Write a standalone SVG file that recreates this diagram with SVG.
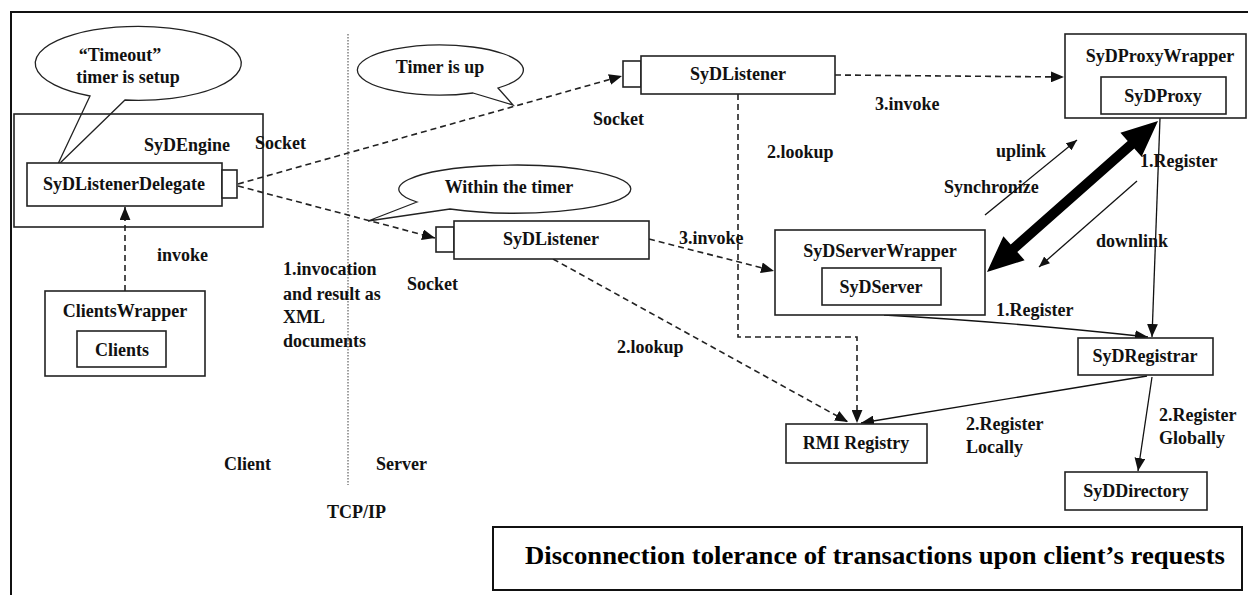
<svg xmlns="http://www.w3.org/2000/svg" width="1248" height="595" viewBox="0 0 1248 595" font-family="Liberation Serif, Times New Roman, serif">
  <style>
    .box { fill: #fff; stroke: #222; stroke-width: 1.6; }
    .frame { fill: none; stroke: #222; stroke-width: 1.6; }
    .lbl { font-weight: bold; font-size: 18px; fill: #111; }
    .mid { text-anchor: middle; }
    .dash { fill: none; stroke: #222; stroke-width: 1.6; stroke-dasharray: 6 4; }
    .solid { fill: none; stroke: #111; stroke-width: 1.3; }
    .bubble { fill: #fff; stroke: #222; stroke-width: 1.3; }
  </style>
  <defs>
    <marker id="ah" viewBox="0 0 12 10" refX="12" refY="5" markerWidth="13" markerHeight="11" orient="auto" markerUnits="userSpaceOnUse">
      <path d="M0,0 L12,5 L0,10 Z" fill="#111"/>
    </marker>
    <marker id="ahs" viewBox="0 0 12 10" refX="12" refY="5" markerWidth="11" markerHeight="9" orient="auto" markerUnits="userSpaceOnUse">
      <path d="M0,0 L12,5 L0,10 Z" fill="#111"/>
    </marker>
  </defs>

  <rect width="1248" height="595" fill="#fff"/>

  <!-- outer frame (top and left edges) -->
  <path d="M11,595 L11,12 L1248,12" fill="none" stroke="#111" stroke-width="2"/>

  <!-- client / server boundary -->
  <line x1="348" y1="34" x2="348" y2="485" stroke="#888" stroke-width="1.6" stroke-dasharray="1.5 1.5"/>

  <!-- connectors -->
  <g id="connectors">
    <line class="dash" x1="238" y1="184" x2="622" y2="76" marker-end="url(#ah)"/>
    <line class="dash" x1="238" y1="186" x2="435" y2="238" marker-end="url(#ah)"/>
    <line class="dash" x1="125" y1="291" x2="125" y2="207" marker-end="url(#ah)"/>
    <line class="dash" x1="835" y1="75" x2="1064" y2="77" marker-end="url(#ah)"/>
    <line class="dash" x1="649" y1="239" x2="774" y2="271" marker-end="url(#ah)"/>
    <polyline class="dash" points="738,94 738,337 857,337 857,423" marker-end="url(#ah)"/>
    <line class="dash" x1="553" y1="259" x2="848" y2="422" marker-end="url(#ah)"/>
    <!-- synchronize: thick two-way arrow -->
    <polygon points="1158,121 1141.6,156.8 1134.3,148.6 1017.3,252 1024.6,260.2 987,272 1003.4,236.2 1010.7,244.5 1127.7,141.1 1120.4,132.8" fill="#000"/>
    <line class="solid" x1="985" y1="215" x2="1077" y2="140" marker-end="url(#ahs)"/>
    <line class="solid" x1="1137" y1="181" x2="1039" y2="267" marker-end="url(#ahs)"/>
    <line class="solid" x1="1160" y1="118" x2="1152" y2="337" marker-end="url(#ah)"/>
    <path class="solid" d="M884,315 Q1010,322 1148,337" marker-end="url(#ah)"/>
    <line class="solid" x1="1147" y1="376" x2="861" y2="423" marker-end="url(#ah)"/>
    <line class="solid" x1="1152" y1="377" x2="1138" y2="471" marker-end="url(#ah)"/>
  </g>

  <!-- callouts -->
  <g id="bubble-timeout">
    <path class="bubble" d="M90,96 L57,166 L125,100 A103,37 0 1 0 90,96 Z"/>
    <text class="lbl mid" x="120" y="61">“Timeout”</text>
    <text class="lbl mid" x="128" y="83">timer is setup</text>
  </g>
  <g id="bubble-timer-up">
    <path class="bubble" d="M473,93 L513,105 L498,88 A83,25 0 1 0 473,93 Z"/>
    <text class="lbl mid" x="440" y="73">Timer is up</text>
  </g>
  <g id="bubble-within">
    <path class="bubble" d="M417,202 L368,221 L450,209 A116,24 0 1 0 417,202 Z"/>
    <text class="lbl mid" x="509" y="193">Within the timer</text>
  </g>

  <!-- nodes -->
  <g id="syd-engine">
    <rect class="frame" x="14" y="114" width="249" height="113"/>
    <text class="lbl mid" x="187" y="151">SyDEngine</text>
    <rect class="box" x="27" y="163" width="195" height="43"/>
    <rect class="box" x="222" y="170" width="15" height="28"/>
    <text class="lbl mid" x="124" y="190">SyDListenerDelegate</text>
  </g>

  <g id="clients-wrapper">
    <rect class="box" x="45" y="291" width="160" height="85"/>
    <text class="lbl mid" x="125" y="317">ClientsWrapper</text>
    <rect class="box" x="77" y="331" width="89" height="36"/>
    <text class="lbl mid" x="122" y="356">Clients</text>
  </g>

  <g id="listener-top">
    <rect class="box" x="623" y="61" width="18" height="26"/>
    <rect class="box" x="641" y="56" width="194" height="38"/>
    <text class="lbl mid" x="738" y="80">SyDListener</text>
  </g>

  <g id="listener-bottom">
    <rect class="box" x="436" y="227" width="18" height="25"/>
    <rect class="box" x="454" y="221" width="195" height="38"/>
    <text class="lbl mid" x="551" y="245">SyDListener</text>
  </g>

  <g id="proxy-wrapper">
    <rect class="box" x="1065" y="34" width="181" height="84"/>
    <text class="lbl mid" x="1160" y="62">SyDProxyWrapper</text>
    <rect class="box" x="1101" y="77" width="125" height="37"/>
    <text class="lbl mid" x="1163" y="102">SyDProxy</text>
  </g>

  <g id="server-wrapper">
    <rect class="box" x="775" y="230" width="210" height="85"/>
    <text class="lbl mid" x="880" y="257">SyDServerWrapper</text>
    <rect class="box" x="822" y="268" width="119" height="37"/>
    <text class="lbl mid" x="881" y="293">SyDServer</text>
  </g>

  <g id="registrar">
    <rect class="box" x="1078" y="338" width="135" height="37"/>
    <text class="lbl mid" x="1145" y="362">SyDRegistrar</text>
  </g>

  <g id="rmi-registry">
    <rect class="box" x="786" y="424" width="141" height="39"/>
    <text class="lbl mid" x="856" y="449">RMI Registry</text>
  </g>

  <g id="directory">
    <rect class="box" x="1065" y="472" width="142" height="38"/>
    <text class="lbl mid" x="1136" y="497">SyDDirectory</text>
  </g>

  <!-- connector labels -->
  <g id="labels">
    <text class="lbl" x="255" y="149">Socket</text>
    <text class="lbl" x="593" y="125">Socket</text>
    <text class="lbl" x="407" y="290">Socket</text>
    <text class="lbl" x="157" y="261">invoke</text>
    <text class="lbl" x="283" y="275">1.invocation</text>
    <text class="lbl" x="283" y="300">and result as</text>
    <text class="lbl" x="283" y="323">XML</text>
    <text class="lbl" x="283" y="347">documents</text>
    <text class="lbl" x="224" y="470">Client</text>
    <text class="lbl" x="376" y="470">Server</text>
    <text class="lbl" x="327" y="518">TCP/IP</text>
    <text class="lbl" x="875" y="110">3.invoke</text>
    <text class="lbl" x="679" y="244">3.invoke</text>
    <text class="lbl" x="767" y="158">2.lookup</text>
    <text class="lbl" x="617" y="353">2.lookup</text>
    <text class="lbl" x="996" y="157">uplink</text>
    <text class="lbl" x="944" y="193">Synchronize</text>
    <text class="lbl" x="1096" y="247">downlink</text>
    <text class="lbl" x="1140" y="167">1.Register</text>
    <text class="lbl" x="996" y="316">1.Register</text>
    <text class="lbl" x="966" y="430">2.Register</text>
    <text class="lbl" x="966" y="453">Locally</text>
    <text class="lbl" x="1159" y="421">2.Register</text>
    <text class="lbl" x="1159" y="444">Globally</text>
  </g>

  <!-- caption -->
  <g id="caption">
    <rect x="493" y="527" width="749" height="63" fill="#fff" stroke="#111" stroke-width="2"/>
    <text x="525" y="564" font-weight="bold" font-size="26" fill="#000" textLength="700" lengthAdjust="spacingAndGlyphs">Disconnection tolerance of transactions upon client’s requests</text>
  </g>
</svg>
